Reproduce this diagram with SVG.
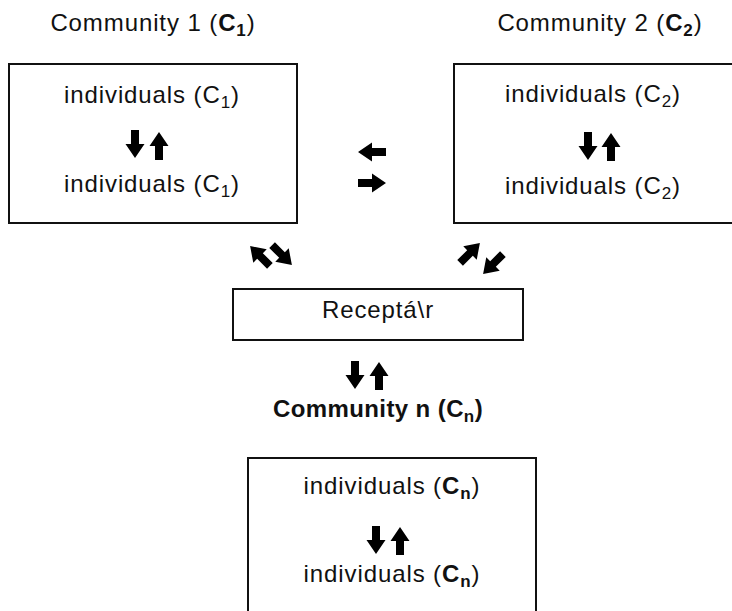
<svg xmlns="http://www.w3.org/2000/svg" width="732" height="611" viewBox="0 0 732 611">
<style>
.t{font-family:"Liberation Sans",Arial,sans-serif;font-size:24px;letter-spacing:0.9px;fill:#111;text-anchor:middle}
.tb{font-weight:bold;letter-spacing:0.4px}
.b{font-weight:bold}
.s{font-size:17px}
.box{fill:none;stroke:#111;stroke-width:2}
.arr{fill:#000}
</style>
<defs>
<path id="ar" d="M-4,-14 L4,-14 L4,0 L9.5,0 L0,14 L-9.5,0 L-4,0 Z"/>
</defs>
<rect width="732" height="611" fill="#fff"/>
<g id="community1">
<text class="t" x="153" y="31">Community 1 (<tspan class="b">C<tspan class="s" dy="5">1</tspan></tspan><tspan dy="-5">)</tspan></text>
<rect class="box" x="9" y="64" width="288" height="159"/>
<text class="t" x="152" y="103">individuals (C<tspan class="s" dy="5">1</tspan><tspan dy="-5">)</tspan></text>
<text class="t" x="152" y="192">individuals (C<tspan class="s" dy="5">1</tspan><tspan dy="-5">)</tspan></text>
</g>
<g id="community2">
<text class="t" x="600" y="31">Community 2 (<tspan class="b">C<tspan class="s" dy="5">2</tspan></tspan><tspan dy="-5">)</tspan></text>
<rect class="box" x="454" y="64" width="300" height="159"/>
<text class="t" x="593" y="102">individuals (C<tspan class="s" dy="5">2</tspan><tspan dy="-5">)</tspan></text>
<text class="t" x="593" y="194">individuals (C<tspan class="s" dy="5">2</tspan><tspan dy="-5">)</tspan></text>
</g>
<g id="receptor">
<rect class="box" x="233" y="289" width="290" height="51"/>
<text class="t" x="378" y="318">Receptá\r</text>
</g>
<g id="communityN">
<text class="t tb" x="378" y="417">Community n (C<tspan class="s" dy="5">n</tspan><tspan dy="-5">)</tspan></text>
<rect class="box" x="248" y="458" width="288" height="170"/>
<text class="t" x="392" y="494">individuals (<tspan class="b">C<tspan class="s" dy="5">n</tspan></tspan><tspan dy="-5">)</tspan></text>
<text class="t" x="392" y="582">individuals (<tspan class="b">C<tspan class="s" dy="5">n</tspan></tspan><tspan dy="-5">)</tspan></text>
</g>
<g id="connectors" class="arr">
<use href="#ar" transform="translate(135,144)"/>
<use href="#ar" transform="translate(159,146) rotate(180)"/>
<use href="#ar" transform="translate(588,146)"/>
<use href="#ar" transform="translate(611,147) rotate(180)"/>
<use href="#ar" transform="translate(376,540)"/>
<use href="#ar" transform="translate(400,541) rotate(180)"/>
<use href="#ar" transform="translate(355,375)"/>
<use href="#ar" transform="translate(379,376) rotate(180)"/>
<use href="#ar" transform="translate(372,152) rotate(90)"/>
<use href="#ar" transform="translate(372,183) rotate(-90)"/>
<use href="#ar" transform="translate(260,256) rotate(135)"/>
<use href="#ar" transform="translate(282,255) rotate(-45)"/>
<use href="#ar" transform="translate(470,253) rotate(-135)"/>
<use href="#ar" transform="translate(493,264) rotate(45)"/>
</g>
</svg>
